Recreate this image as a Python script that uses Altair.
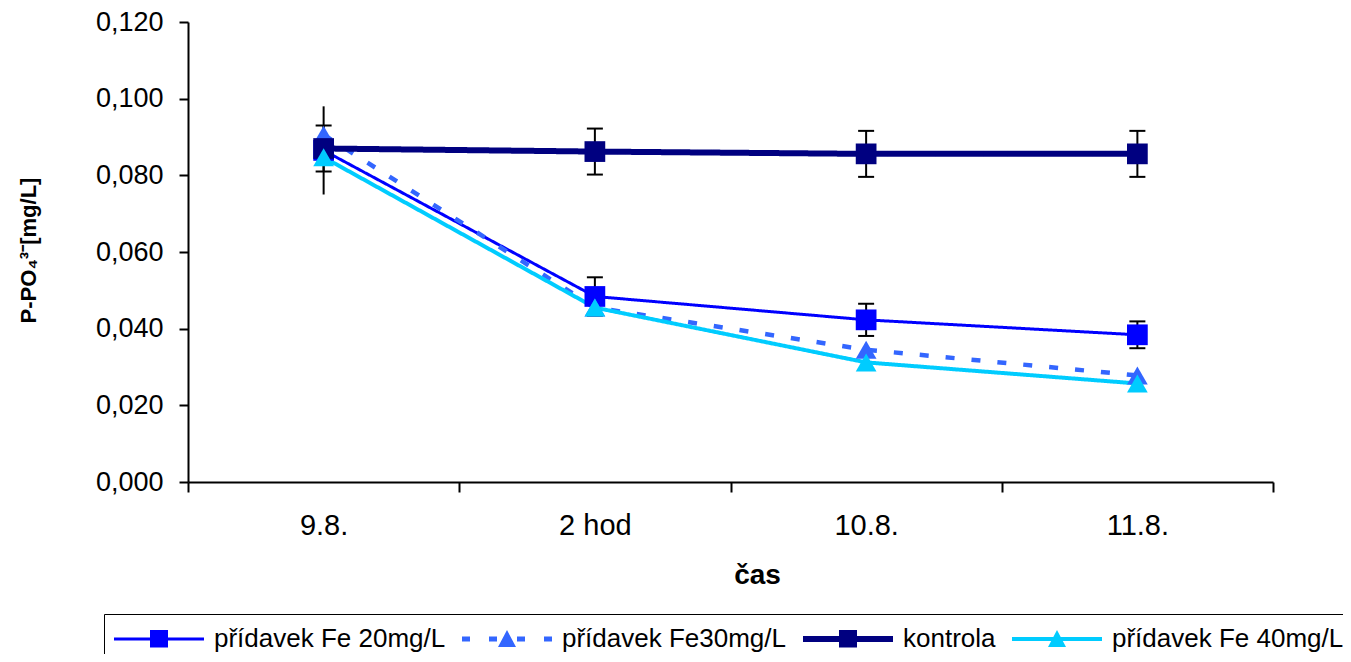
import altair as alt
import pandas as pd

categories = ["9.8.", "2 hod", "10.8.", "11.8."]
series_names = ["přídavek Fe 20mg/L", "přídavek Fe30mg/L", "kontrola", "přídavek Fe 40mg/L"]
fe20 = [0.0865, 0.0484, 0.0423, 0.0384]
fe30 = [0.0906, 0.0455, 0.0345, 0.0278]
kontrola = [0.0870, 0.0862, 0.0856, 0.0856]
fe40 = [0.0847, 0.0455, 0.0312, 0.0257]
err_fe20 = [0.0115, 0.0050, 0.0042, 0.0035]
cap_fe20 = [False, True, True, True]
err_kontrola = [0.0060, 0.0060, 0.0060, 0.0060]
cap_kontrola = [True, True, True, True]
colors = ["#0000FF", "#3366FF", "#000080", "#00CCFF"]
line_widths = [3, 4.5, 6, 4]
line_dashes = [[1, 0], [9, 17], [1, 0], [1, 0]]
y_ticks = [0.0, 0.02, 0.04, 0.06, 0.08, 0.10, 0.12]

# data tables
rows = []
for name, vals in zip(series_names, [fe20, fe30, kontrola, fe40]):
    for i, (c, v) in enumerate(zip(categories, vals)):
        rows.append({"series": name, "cat": c, "value": v, "order": i})
df = pd.DataFrame(rows)

err_rows = []
for name, vals, errs, caps in [
    (series_names[0], fe20, err_fe20, cap_fe20),
    (series_names[2], kontrola, err_kontrola, cap_kontrola),
]:
    for c, v, e, cp in zip(categories, vals, errs, caps):
        err_rows.append({"series": name, "cat": c, "lo": v - e, "hi": v + e, "cap": cp})
edf = pd.DataFrame(err_rows)

FONT = "Liberation Sans"

x_enc = alt.X(
    "cat:N",
    sort=categories,
    scale=alt.Scale(type="band", domain=categories, paddingInner=0, paddingOuter=0),
    axis=alt.Axis(
        title="čas",
        labelAngle=0,
        labelAlign="center",
        tickBand="extent",
        labelFontSize=29,
        labelPadding=19,
        labelColor="black",
        labelFont=FONT,
        tickSize=10,
        tickWidth=2,
        tickColor="black",
        domainColor="black",
        domainWidth=2,
        titleFont=FONT,
        titleFontSize=28,
        titleFontWeight="bold",
        titleColor="black",
        titleX=569,
        titleY=93,
        titleAlign="center",
        titleBaseline="middle",
    ),
)

y_scale = alt.Scale(domain=[0, 0.12], nice=False, zero=True)
y_axis = alt.Axis(
    values=y_ticks,
    labelExpr="replace(format(datum.value, '.3f'), '.', ',')",
    grid=False,
    tickSize=9,
    tickWidth=2,
    tickColor="black",
    domainColor="black",
    domainWidth=2,
    labelPadding=16,
    labelFontSize=27,
    labelColor="black",
    labelFont=FONT,
    title="P-PO₄³⁻[mg/L]",
    titleFont=FONT,
    titleFontSize=22,
    titleFontWeight="bold",
    titleColor="black",
    titleX=-160,
    titleY=228,
    titleAngle=270,
    titleAlign="center",
    titleBaseline="middle",
)

base = alt.Chart(df)

err_rule = alt.Chart(edf).mark_rule(color="black", strokeWidth=2).encode(
    x=x_enc,
    y=alt.Y("lo:Q", scale=y_scale, axis=y_axis),
    y2="hi:Q",
)

caps_src = alt.Chart(edf).transform_filter("datum.cap")
cap_lo = caps_src.mark_tick(color="black", size=16, thickness=2, opacity=1).encode(
    x=alt.X("cat:N", sort=categories), y=alt.Y("lo:Q")
)
cap_hi = caps_src.mark_tick(color="black", size=16, thickness=2, opacity=1).encode(
    x=alt.X("cat:N", sort=categories), y=alt.Y("hi:Q")
)

line_layers = []
for name, col, w, dash in zip(series_names, colors, line_widths, line_dashes):
    line_layers.append(
        base.transform_filter(alt.datum.series == name)
        .mark_line(color=col, strokeWidth=w, strokeDash=dash)
        .encode(x=alt.X("cat:N", sort=categories), y=alt.Y("value:Q"), order="order:Q")
    )

points = base.mark_point(filled=True, opacity=1, size=430).encode(
    x=alt.X("cat:N", sort=categories),
    y=alt.Y("value:Q"),
    color=alt.Color("series:N", scale=alt.Scale(domain=series_names, range=colors), legend=None),
    shape=alt.Shape(
        "series:N",
        scale=alt.Scale(domain=series_names, range=["square", "triangle-up", "square", "triangle-up"]),
        legend=None,
    ),
)

main = alt.layer(err_rule, cap_lo, cap_hi, *line_layers, points)

# legend symbols: line + marker combined paths (unit = 10 px, line spans -1.5..7.5)
legend_paths = [
    "M-1.5,-0.16H7.5V0.16H-1.5Z M2.1,-0.9H3.9V0.85H2.1Z",
    "M-1.5,-0.25H-0.7V0.25H-1.5Z M1.2,-0.25H2V0.25H1.2Z M2.1,0.8L3,-0.9L3.9,0.8Z M4,-0.25H4.8V0.25H4Z M6.7,-0.25H7.5V0.25H6.7Z",
    "M-1.5,-0.3H7.5V0.3H-1.5Z M2.1,-0.9H3.9V0.85H2.1Z",
    "M-1.5,-0.2H7.5V0.2H-1.5Z M2.1,0.8L3,-0.9L3.9,0.8Z",
]

leg = dict(
    title=None,
    orient="none",
    legendX=-84,
    legendY=592,
    direction="horizontal",
    columns=4,
    symbolSize=400,
    symbolStrokeWidth=0,
    symbolOpacity=1,
    labelFont=FONT,
    labelFontSize=26,
    labelColor="black",
    labelOffset=72,
    labelLimit=500,
    columnPadding=16,
    padding=12,
    strokeColor="black",
)

legend_layer = base.transform_filter("false").mark_point(filled=True, opacity=1).encode(
    color=alt.Color(
        "series:N",
        scale=alt.Scale(domain=series_names, range=colors),
        legend=alt.Legend(**leg),
    ),
    shape=alt.Shape(
        "series:N",
        scale=alt.Scale(domain=series_names, range=legend_paths),
        legend=alt.Legend(**leg),
    ),
)

chart = (
    alt.layer(main, legend_layer)
    .resolve_scale(color="independent", shape="independent")
    .properties(
        width=1085,
        height=460,
        autosize=alt.AutoSizeParams(type="none"),
        padding={"left": 180, "top": 14, "right": 70, "bottom": 172},
    )
    .configure(font=FONT, view=alt.ViewConfig(stroke=None))
)

chart.save("out.html", embed_options={"renderer": "svg", "actions": False})
